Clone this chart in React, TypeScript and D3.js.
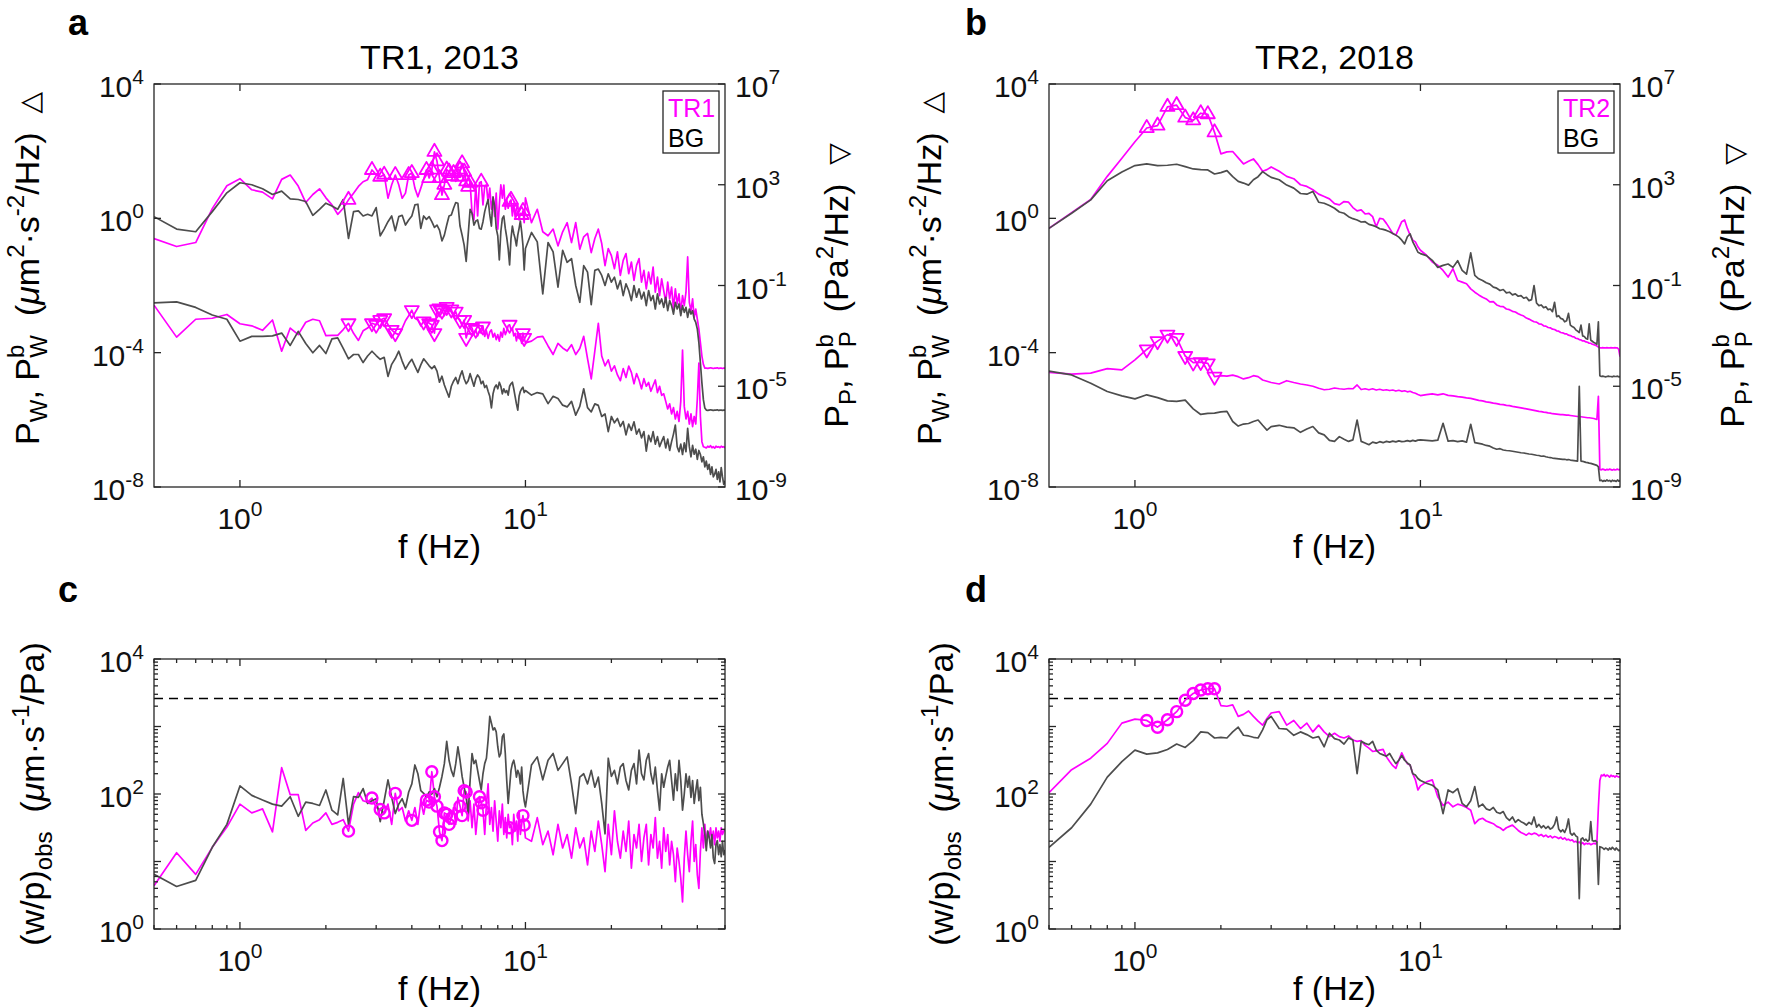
import React from 'react';
import * as d3 from 'd3';

const FONT = '"Liberation Sans", Arial, Helvetica, sans-serif';
const MAGENTA = '#ff00ff';
const GREY = '#4d4d4d';
const INK = '#262626';

// frequency grids (Hz)
const FREQ_FINE = [
  0.5, 0.6, 0.7, 0.8, 0.9, 1.0, 1.1, 1.2, 1.3, 1.4,
  1.5, 1.6, 1.7, 1.8, 1.9, 2.0, 2.1, 2.2, 2.3, 2.4,
  2.5, 2.6, 2.7, 2.8, 2.9, 3.0, 3.1, 3.2, 3.3, 3.4,
  3.5, 3.6, 3.7, 3.8, 3.9, 4.0, 4.1, 4.2, 4.3, 4.4,
  4.5, 4.6, 4.7, 4.8, 4.9, 5.0, 5.1, 5.2, 5.3, 5.4,
  5.5, 5.6, 5.7, 5.8, 5.9, 6.0, 6.1, 6.2, 6.3, 6.4,
  6.5, 6.6, 6.7, 6.8, 6.9, 7.0, 7.1, 7.2, 7.3, 7.4,
  7.5, 7.6, 7.7, 7.8, 7.9, 8.0, 8.1, 8.2, 8.3, 8.4,
  8.5, 8.6, 8.7, 8.8, 8.9, 9.0, 9.1, 9.2, 9.3, 9.4,
  9.5, 9.6, 9.7, 9.8, 9.9, 10.0,
];
const FREQ_COARSE = [
  0.5, 0.6, 0.7, 0.8, 0.9, 1.0, 1.1, 1.2, 1.3, 1.4,
  1.5, 1.6, 1.7, 1.8, 1.9, 2.0, 2.1, 2.2, 2.3, 2.4,
  2.5, 2.6, 2.7, 2.8, 2.9, 3.0,
  3.2, 3.4, 3.6, 3.8, 4.0, 4.2, 4.4, 4.6, 4.8, 5.0,
  5.2, 5.4, 5.6, 5.8, 6.0, 6.2, 6.4, 6.6, 6.8, 7.0,
  7.2, 7.4, 7.6, 7.8, 8.0, 8.2, 8.4, 8.6, 8.8, 9.0,
  9.2, 9.4, 9.6, 9.8, 10.0,
];
const FREQ_HIGH = [
  10.5, 11, 11.5, 12, 12.5, 13, 13.5, 14, 14.5, 15,
  15.5, 16, 16.5, 17, 17.5, 18, 18.5, 19, 19.5, 20,
  20.5, 21, 21.5, 22, 22.5, 23, 23.5, 24, 24.5, 25,
  25.5, 26, 26.5, 27, 27.5, 28, 28.5, 29, 29.5, 30,
  30.5, 31, 31.5, 32, 32.5, 33, 33.5, 34, 34.5, 35,
  35.5, 36, 36.5, 37, 37.5, 38, 38.5, 39, 39.5, 40,
  40.5, 41, 41.5, 42, 42.5, 43, 43.5, 44, 44.5, 45,
  45.5, 46, 46.5, 47, 47.5, 48, 48.5, 49, 49.5, 50,
];

// tick labels (powers of ten)
const W_TICK_EXP = [4, 0, -4, -8];
const P_TICK_EXP = [7, 3, -1, -5, -9];
const F_TICK_EXP = [0, 1];
const RATIO_TICK_EXP = [0, 2, 4];

// ---- a: TR1, 2013 (log10 values) ----
const tr1PwLog = [
  -0.60, -0.84, -0.72, 0.29, 0.97, 1.18, 0.85, 0.78, 0.58, 1.16,
  1.29, 0.96, 0.47, 0.71, 0.88, 0.61, 0.40, 0.12, 0.30, 0.55,
  0.75, 0.95, 1.09, 1.15, 1.44, 1.30, 1.24, 1.30, 0.60, 1.00,
  1.29, 1.00, 0.60, 0.75, 1.29, 1.35, 0.90, 0.64, 0.90, 1.16,
  1.44, 1.20, 1.45, 1.98, 1.70, 1.20, 0.69, 1.00, 1.45, 1.39,
  1.26, 1.35, 1.10, 1.24, 1.45, 1.64, 1.39, 1.10, 0.94, 1.06,
  0.17, -0.05, 1.00, 0.07, 1.06, 1.09, 0.40, 0.96, 0.99, 0.47,
  0.90, 0.27, 0.60, 0.06, 0.75, -0.32, 0.40, 1.00, 0.60, 0.99,
  0.27, 0.55, 0.30, 0.49, 0.55, 0.07, 0.45, 0.05, 0.30, 0.40,
  -0.05, 0.15, 0.10, 0.22, -0.13, 0.61,
  -0.13, 0.27, -0.40, -0.52, -0.32, -0.82, -0.40, -0.13, -0.72, -0.13,
  -0.92, -0.55, -0.45, -1.02, -0.60, -0.32, -0.75, -1.41, -0.90, -1.11,
  -1.50, -1.00, -1.70, -1.25, -1.05, -1.65, -1.30, -1.85, -1.40, -1.20,
  -1.90, -1.55, -2.10, -1.60, -1.95, -1.45, -2.20, -1.75, -2.30, -1.80,
  -2.15, -2.50, -1.90, -2.40, -2.05, -2.70, -2.10, -2.55, -2.25, -2.80,
  -2.30, -2.60, -2.20, -1.15, -2.50, -2.75, -2.40, -2.95, -2.70, -3.00,
  -3.30, -3.70, -4.10, -4.35, -4.46, -4.46, -4.47, -4.46, -4.45, -4.46,
  -4.47, -4.46, -4.46, -4.45, -4.47, -4.46, -4.46, -4.47, -4.46, -4.46,
];
const bg1PwLog = [
  0.05, -0.32, -0.40, 0.20, 0.76, 1.06, 1.00, 0.88, 0.71, 0.81,
  0.58, 0.56, 0.50, 0.09, 0.27, 0.45, 0.37, 0.27, 0.56, -0.60,
  0.20, 0.22, 0.07, 0.12, 0.07, 0.32, -0.52, -0.32, -0.10, 0.07,
  -0.37, 0.05, 0.09, -0.20, -0.05, 0.07, 0.40, 0.42, -0.30, 0.07,
  -0.03, 0.05, -0.10, -0.27, -0.20, -0.35, -0.67, -0.50, -0.20, 0.07,
  0.10, 0.30, 0.47, 0.45, -0.23, -0.50, -0.80, -1.28, -0.50, 0.27,
  0.15, -0.20, -0.08, -0.05, -0.30, -0.32, -0.10, 0.20, 0.40, 0.56,
  0.10, -0.23, 0.64, 0.37, -0.30, -0.52, -1.24, -0.40, 0.00, 0.07,
  -0.30, -0.57, -0.90, -1.39, -0.60, -0.23, -0.45, -0.60, -0.82, -0.50,
  -0.30, -0.08, -0.40, -0.80, -1.54, -0.90,
  -0.42, -0.70, -2.25, -0.72, -1.00, -2.05, -0.95, -1.31, -1.20, -2.00,
  -2.50, -1.41, -1.60, -2.57, -1.55, -1.51, -1.70, -2.00, -1.65, -1.90,
  -1.75, -2.10, -1.85, -2.30, -1.95, -2.15, -2.45, -2.00, -2.35, -2.10,
  -2.40, -2.20, -2.60, -2.15, -2.45, -2.30, -2.70, -2.25, -2.55, -2.40,
  -2.65, -2.35, -2.75, -2.45, -2.60, -2.85, -2.50, -2.70, -2.55, -2.90,
  -2.60, -2.80, -2.65, -2.95, -2.70, -2.85, -2.75, -3.00, -3.10, -3.30,
  -3.70, -4.30, -4.90, -5.40, -5.65, -5.71, -5.72, -5.71, -5.70, -5.71,
  -5.72, -5.71, -5.71, -5.70, -5.72, -5.71, -5.71, -5.72, -5.71, -5.71,
];
const tr1PpLog = [
  -1.78, -3.05, -2.34, -2.30, -2.15, -2.52, -2.60, -2.78, -2.37, -3.61,
  -2.69, -2.95, -2.46, -2.34, -2.40, -2.99, -2.98, -2.98, -2.75, -2.50,
  -2.90, -3.18, -2.80, -2.69, -2.50, -2.56, -2.37, -2.30, -2.55, -2.76,
  -2.89, -2.95, -2.70, -2.40, -2.20, -1.98, -2.30, -2.37, -2.60, -2.43,
  -2.30, -2.50, -2.56, -2.89, -1.95, -1.91, -2.00, -2.20, -1.85, -2.00,
  -1.95, -2.20, -2.04, -2.30, -2.37, -2.60, -2.37, -3.08, -2.80, -2.60,
  -2.69, -2.95, -2.76, -3.00, -2.80, -2.90, -2.63, -3.02, -2.80, -3.10,
  -2.85, -2.76, -3.05, -2.90, -3.15, -2.95, -3.21, -2.85, -3.05, -2.70,
  -2.95, -2.80, -2.60, -2.56, -2.75, -2.69, -3.00, -2.90, -3.20, -2.95,
  -3.10, -2.95, -3.30, -2.89, -3.08, -3.28,
  -3.21, -3.05, -3.02, -3.40, -3.74, -3.30, -3.48, -3.60, -3.35, -3.74,
  -3.50, -3.02, -3.90, -4.71, -3.60, -2.50, -3.80, -4.19, -3.95, -4.40,
  -4.19, -4.55, -4.78, -4.30, -4.65, -4.20, -4.45, -4.90, -4.50, -4.75,
  -5.10, -4.70, -5.00, -4.85, -5.20, -4.97, -4.75, -5.25, -5.00, -5.36,
  -5.30, -5.60, -5.90, -5.70, -6.10, -5.85, -6.30, -6.00, -6.40, -5.60,
  -3.56, -5.80, -6.30, -6.00, -6.50, -6.10, -6.60, -6.20, -6.50, -5.50,
  -4.08, -6.20, -7.20, -7.40, -7.42, -7.45, -7.38, -7.42, -7.36, -7.44,
  -7.40, -7.46, -7.38, -7.42, -7.40, -7.44, -7.38, -7.42, -7.40, -7.45,
];
const bg1PpLog = [
  -1.69, -1.65, -1.87, -2.17, -2.34, -3.21, -3.02, -3.02, -3.00, -2.89,
  -3.38, -2.82, -3.30, -3.67, -3.38, -3.70, -3.12, -3.08, -3.50, -3.91,
  -3.74, -3.74, -4.06, -3.80, -3.61, -3.78, -3.93, -3.85, -4.61, -4.13,
  -3.90, -3.61, -4.00, -4.32, -4.10, -3.93, -4.20, -4.45, -4.15, -3.91,
  -4.05, -4.19, -4.30, -4.19, -4.40, -4.84, -4.60, -4.95, -5.20, -5.43,
  -5.00, -4.80, -4.65, -4.90, -4.60, -4.39, -4.70, -4.90, -4.78, -4.50,
  -4.75, -5.00, -4.70, -4.55, -4.65, -4.90, -4.80, -5.05, -4.97, -5.20,
  -5.40, -5.86, -5.30, -5.05, -4.95, -5.10, -4.84, -5.00, -5.30, -5.10,
  -5.25, -5.17, -5.35, -5.00, -4.90, -4.84, -5.10, -5.40, -5.70, -5.95,
  -5.40, -5.20, -5.10, -5.04, -5.25, -5.17,
  -5.35, -5.25, -5.30, -5.69, -5.40, -5.49, -5.75, -5.82, -5.60, -6.15,
  -5.80, -5.10, -5.85, -6.02, -5.70, -5.76, -6.20, -6.10, -6.80, -6.20,
  -6.45, -6.28, -6.60, -6.40, -6.93, -6.50, -6.75, -6.41, -6.90, -6.70,
  -7.05, -6.80, -7.58, -6.95, -7.20, -6.80, -7.30, -7.00, -7.40, -7.19,
  -7.00, -7.45, -7.10, -7.55, -7.20, -6.90, -6.54, -7.40, -7.60, -7.30,
  -7.71, -7.25, -7.60, -6.67, -7.40, -7.80, -7.35, -7.70, -7.50, -7.90,
  -7.55, -7.71, -8.00, -7.80, -8.20, -7.97, -8.30, -8.10, -8.50, -8.20,
  -8.60, -8.49, -8.30, -8.70, -8.40, -8.80, -8.23, -8.60, -8.90, -8.75,
];
const tr1PwMarkF = [2.4, 2.9, 3.1, 3.2, 3.5, 3.9, 4.0, 4.5, 4.6, 4.7, 4.8, 4.9, 5.0, 5.1, 5.2, 5.3, 5.4, 5.5, 5.6, 5.8, 5.9, 6.0, 6.1, 6.2, 6.3, 6.4, 7.0, 8.8, 8.9, 9.7, 9.8];
const tr1PpMarkF = [2.4, 2.9, 3.0, 3.1, 3.2, 3.4, 3.5, 4.0, 4.4, 4.6, 4.7, 4.8, 4.9, 5.0, 5.1, 5.3, 5.5, 5.7, 5.9, 6.1, 6.2, 6.5, 6.7, 7.1, 8.8, 9.8, 9.9];

// ---- b: TR2, 2018 (log10 values) ----
const tr2PwLog = [
  -0.30, 0.17, 0.56, 1.25, 1.79, 2.28, 2.69, 2.76, 3.32, 3.37,
  3.00, 2.92, 3.13, 3.10, 2.56, 1.92, 1.98, 1.99, 1.80, 1.62,
  1.70, 1.77, 1.60, 1.40, 1.45, 1.53,
  1.40, 1.25, 1.18, 1.00, 0.95, 0.85, 0.72, 0.65, 0.58, 0.44,
  0.40, 0.50, 0.48, 0.32, 0.22, 0.25, 0.13, 0.15, 0.05, -0.25,
  0.00, -0.02, -0.15, -0.30, -0.45, -0.50, -0.30, -0.10, -0.05, -0.30,
  -0.50, -0.65, -0.70, -0.85, -0.95,
  -1.10, -1.30, -1.40, -1.55, -1.75, -1.50, -1.85, -1.90, -1.95, -2.10,
  -2.20, -2.28, -2.35, -2.40, -2.49, -2.48, -2.58, -2.62, -2.63, -2.70,
  -2.72, -2.77, -2.79, -2.84, -2.88, -2.91, -2.97, -3.00, -3.04, -3.08,
  -3.09, -3.14, -3.15, -3.20, -3.21, -3.25, -3.26, -3.30, -3.31, -3.35,
  -3.36, -3.40, -3.41, -3.44, -3.44, -3.48, -3.49, -3.52, -3.53, -3.57,
  -3.58, -3.61, -3.62, -3.65, -3.65, -3.68, -3.69, -3.72, -3.72, -3.75,
  -3.76, -3.78, -3.80, -3.83, -3.86, -3.86, -3.85, -3.86, -3.86, -3.85,
  -3.86, -3.86, -3.85, -3.86, -3.86, -3.85, -3.86, -3.86, -3.90, -4.12,
];
const bg2PwLog = [
  -0.30, 0.15, 0.55, 1.12, 1.38, 1.57, 1.62, 1.57, 1.58, 1.61,
  1.54, 1.47, 1.45, 1.44, 1.32, 1.36, 1.42, 1.24, 1.10, 1.05,
  0.99, 1.15, 1.24, 1.39, 1.30, 1.22,
  1.15, 0.99, 0.90, 0.74, 0.72, 0.80, 0.48, 0.45, 0.38, 0.30,
  0.19, 0.15, 0.05, -0.01, -0.05, -0.11, -0.10, -0.18, -0.21, -0.25,
  -0.31, -0.33, -0.36, -0.40, -0.45, -0.50, -0.56, -0.65, -0.76, -0.55,
  -0.46, -0.70, -0.85, -1.01, -1.05,
  -1.11, -1.25, -1.46, -1.40, -1.36, -1.46, -1.26, -1.55, -1.66, -1.03,
  -1.70, -1.80, -1.85, -1.92, -1.96, -2.05, -2.08, -2.15, -2.12, -2.22,
  -2.20, -2.28, -2.25, -2.32, -2.30, -2.38, -2.35, -2.45, -2.42, -2.00,
  -2.52, -2.60, -2.58, -2.66, -2.63, -2.72, -2.70, -2.78, -2.50, -2.93,
  -2.90, -2.98, -3.00, -3.08, -3.05, -2.83, -3.18, -3.22, -3.25, -3.32,
  -3.36, -3.40, -3.18, -3.50, -3.52, -3.58, -3.60, -3.14, -3.63, -3.66,
  -3.70, -3.72, -3.75, -3.08, -4.69, -4.71, -4.70, -4.71, -4.72, -4.71,
  -4.70, -4.71, -4.71, -4.72, -4.70, -4.71, -4.71, -4.70, -4.72, -4.71,
];
const tr2PpLog = [
  -4.45, -4.52, -4.48, -4.30, -4.35, -3.95, -3.54, -3.21, -2.95, -3.08,
  -3.80, -4.06, -4.04, -4.09, -4.62, -4.58, -4.60, -4.56, -4.62, -4.71,
  -4.66, -4.58, -4.62, -4.75, -4.80, -4.85,
  -4.91, -4.78, -4.85, -4.91, -4.95, -5.00, -5.08, -5.14, -5.12, -5.07,
  -5.10, -5.12, -5.09, -5.10, -4.95, -5.13, -5.10, -5.14, -5.10, -5.15,
  -5.12, -5.16, -5.14, -5.17, -5.15, -5.19, -5.16, -5.20, -5.18, -5.22,
  -5.20, -5.25, -5.28, -5.33, -5.37,
  -5.33, -5.30, -5.34, -5.30, -5.36, -5.38, -5.41, -5.43, -5.46, -5.48,
  -5.52, -5.56, -5.58, -5.62, -5.64, -5.67, -5.69, -5.72, -5.73, -5.76,
  -5.77, -5.80, -5.82, -5.84, -5.86, -5.88, -5.90, -5.92, -5.94, -5.96,
  -5.98, -6.00, -6.01, -6.03, -6.04, -6.06, -6.07, -6.09, -6.10, -6.11,
  -6.12, -6.13, -6.13, -6.14, -6.15, -6.15, -6.16, -6.17, -6.18, -6.19,
  -6.20, -6.21, -6.21, -6.22, -6.23, -6.24, -6.25, -6.25, -6.26, -6.27,
  -6.28, -6.30, -6.32, -5.40, -8.30, -8.32, -8.29, -8.31, -8.33, -8.30,
  -8.32, -8.29, -8.31, -8.33, -8.30, -8.32, -8.31, -8.29, -8.32, -8.30,
];
const bg2PpLog = [
  -4.40, -4.55, -4.88, -5.21, -5.38, -5.50, -5.34, -5.45, -5.58, -5.60,
  -5.55, -5.90, -6.12, -6.08, -6.07, -6.02, -6.00, -6.40, -6.58, -6.50,
  -6.48, -6.40, -6.34, -6.55, -6.74, -6.60,
  -6.55, -6.62, -6.65, -6.83, -6.70, -6.60, -6.85, -6.93, -7.15, -7.19,
  -7.00, -7.10, -7.19, -7.13, -6.34, -7.19, -7.25, -7.32, -7.22, -7.26,
  -7.20, -7.24, -7.19, -7.22, -7.18, -7.21, -7.17, -7.20, -7.19, -7.16,
  -7.19, -7.15, -7.18, -7.14, -7.13,
  -7.15, -7.17, -7.14, -6.47, -7.18, -7.16, -7.20, -7.17, -7.22, -6.51,
  -7.24, -7.27, -7.30, -7.35, -7.38, -7.45, -7.50, -7.48, -7.53, -7.55,
  -7.56, -7.58, -7.60, -7.62, -7.64, -7.65, -7.67, -7.69, -7.70, -7.72,
  -7.74, -7.75, -7.78, -7.77, -7.80, -7.82, -7.83, -7.85, -7.86, -7.87,
  -7.88, -7.89, -7.90, -7.90, -7.92, -7.91, -7.93, -7.94, -7.95, -7.96,
  -7.97, -5.00, -7.97, -7.98, -8.00, -8.02, -8.03, -8.05, -8.06, -8.08,
  -8.10, -8.12, -8.14, -8.20, -8.75, -8.73, -8.78, -8.74, -8.77, -8.72,
  -8.76, -8.74, -8.79, -8.73, -8.76, -8.75, -8.78, -8.72, -8.77, -8.74,
];
const tr2MarkF = [1.1, 1.2, 1.3, 1.4, 1.5, 1.6, 1.7, 1.8, 1.9];

// ---- c: (w/p)obs for TR1 (log10 values) ----
const tr1RatioLog = [
  0.64, 1.13, 0.81, 1.21, 1.51, 1.85, 1.72, 1.78, 1.44, 2.39,
  1.99, 1.99, 1.46, 1.57, 1.62, 1.72, 1.55, 1.58, 1.62, 1.45,
  1.85, 2.02, 1.90, 1.88, 1.94, 1.80, 1.77, 1.72, 1.85, 1.55,
  2.01, 1.75, 1.80, 1.60, 1.75, 1.61, 1.80, 1.55, 1.90, 1.70,
  1.91, 1.88, 2.33, 1.96, 1.82, 1.44, 1.31, 1.72, 1.70, 1.55,
  1.64, 1.80, 1.55, 1.95, 1.82, 1.68, 2.05, 2.03, 1.60, 1.90,
  1.50, 1.85, 1.40, 1.70, 1.96, 1.87, 1.76, 1.40, 1.85, 2.15,
  1.55, 1.80, 1.45, 1.90, 1.60, 1.30, 1.75, 1.50, 1.85, 1.40,
  1.65, 1.35, 1.70, 1.50, 1.55, 1.25, 1.70, 1.45, 1.60, 1.30,
  1.75, 1.40, 1.55, 1.68, 1.54, 1.35,
  1.30, 1.65, 1.25, 1.45, 1.10, 1.55, 1.20, 1.40, 1.05, 1.50,
  1.20, 1.35, 0.95, 1.45, 1.15, 1.60, 1.25, 0.85, 1.55, 1.10,
  1.75, 1.30, 1.05, 1.45, 1.15, 1.60, 0.90, 1.40, 1.20, 1.55,
  1.00, 1.35, 1.55, 0.95, 1.40, 1.20, 1.65, 1.05, 1.30, 0.90,
  1.50, 1.15, 1.40, 0.95, 1.30, 1.10, 0.70, 1.20, 1.00, 0.75,
  0.40, 1.05, 1.45, 1.10, 0.85, 1.30, 1.60, 1.00, 1.25, 0.80,
  0.60, 1.15, 1.50, 1.20, 1.55, 1.25, 1.45, 1.35, 1.50, 1.30,
  1.45, 1.25, 1.50, 1.35, 1.45, 1.30, 1.50, 1.40, 1.45, 1.48,
];
const bg1RatioLog = [
  0.81, 0.63, 0.72, 1.21, 1.55, 2.12, 1.98, 1.91, 1.85, 1.82,
  1.96, 1.67, 1.88, 1.86, 1.83, 2.06, 1.76, 1.69, 2.23, 1.55,
  1.96, 1.95, 2.08, 1.86, 1.90, 1.93, 1.59, 1.90, 2.21, 1.95,
  1.71, 1.85, 1.93, 1.80, 2.03, 2.15, 2.43, 2.30, 2.05, 2.01,
  1.95, 2.03, 2.00, 2.08, 1.96, 2.10, 2.26, 2.45, 2.78, 2.50,
  2.35, 2.26, 2.45, 2.70, 2.50, 2.26, 2.10, 1.95, 1.71, 2.20,
  2.60, 2.45, 2.50, 2.35, 2.20, 2.06, 2.30, 2.45, 2.53, 2.80,
  3.15, 3.05, 2.95, 2.98, 2.92, 2.70, 2.55, 2.60, 2.85, 2.89,
  2.60, 2.20, 1.86, 2.10, 2.35, 2.45, 2.50, 2.40, 2.25, 2.35,
  2.30, 2.15, 2.40, 2.05, 1.90, 1.81,
  2.43, 2.55, 2.21, 2.50, 2.60, 2.35, 2.45, 2.55, 2.15, 1.71,
  2.25, 2.30, 2.15, 2.35, 2.10, 2.25, 1.86, 1.41, 2.53, 2.26,
  2.35, 2.15, 2.40, 2.45, 2.20, 2.06, 2.35, 2.45, 2.15, 2.65,
  2.30, 2.21, 2.50, 2.60, 2.30, 2.15, 2.40, 2.05, 1.76, 2.30,
  2.10, 2.26, 2.40, 2.50, 2.20, 1.91, 2.30, 2.05, 2.50, 2.20,
  1.76, 2.00, 2.30, 2.10, 2.26, 1.95, 2.20, 1.86, 2.05, 2.21,
  1.90, 2.10, 1.70, 1.56, 1.40, 1.16, 1.45, 1.36, 1.20, 1.40,
  1.05, 0.97, 1.25, 1.31, 1.10, 1.25, 1.07, 1.30, 1.10, 1.17,
];
const tr1RatioMarkF = [2.4, 2.9, 3.1, 3.2, 3.5, 4.0, 4.5, 4.6, 4.7, 4.8, 4.9, 5.0, 5.1, 5.2, 5.3, 5.4, 5.5, 5.9, 6.0, 6.1, 6.2, 6.9, 7.0, 7.1, 8.8, 9.8, 9.9];

// ---- d: (w/p)obs for TR2 (log10 values) ----
const tr2RatioLog = [
  2.02, 2.36, 2.53, 2.75, 3.05, 3.11, 3.09, 2.99, 3.10, 3.22,
  3.39, 3.49, 3.54, 3.56, 3.56, 3.31, 3.30, 3.32, 3.15, 3.18,
  3.23, 3.15, 3.08, 3.02, 3.12, 3.20,
  3.22, 3.02, 3.09, 2.97, 3.05, 2.92, 3.02, 2.92, 2.85, 2.90,
  2.85, 2.83, 2.86, 2.80, 2.78, 2.79, 2.72, 2.68, 2.63, 2.64,
  2.65, 2.66, 2.55, 2.48, 2.42, 2.38, 2.50, 2.61, 2.52, 2.45,
  2.43, 2.30, 2.21, 2.06, 2.12,
  2.18, 2.21, 1.96, 1.83, 1.88, 1.81, 1.85, 1.83, 1.80, 1.76,
  1.56, 1.62, 1.64, 1.60, 1.58, 1.56, 1.52, 1.50, 1.46, 1.50,
  1.52, 1.54, 1.50, 1.46, 1.43, 1.41, 1.39, 1.42, 1.40, 1.42,
  1.41, 1.38, 1.40, 1.37, 1.39, 1.36, 1.38, 1.35, 1.37, 1.36,
  1.34, 1.36, 1.33, 1.35, 1.32, 1.33, 1.31, 1.32, 1.29, 1.30,
  1.28, 1.29, 1.26, 1.28, 1.25, 1.27, 1.26, 1.27, 1.25, 1.26,
  1.27, 1.26, 1.29, 1.80, 2.20, 2.28, 2.27, 2.29, 2.26, 2.28,
  2.27, 2.25, 2.28, 2.26, 2.27, 2.25, 2.27, 2.26, 2.25, 2.26,
];
const bg2RatioLog = [
  1.21, 1.50, 1.85, 2.25, 2.48, 2.65, 2.59, 2.61, 2.66, 2.74,
  2.69, 2.79, 2.92, 2.91, 2.83, 2.84, 2.83, 2.92, 2.99, 2.87,
  2.86, 2.84, 2.83, 2.95, 3.10, 3.15,
  2.97, 2.96, 2.87, 2.92, 2.88, 2.83, 2.85, 2.70, 2.90, 2.82,
  2.80, 2.74, 2.83, 2.80, 2.30, 2.78, 2.75, 2.73, 2.78, 2.65,
  2.60, 2.58, 2.56, 2.60, 2.52, 2.45, 2.50, 2.57, 2.50, 2.46,
  2.43, 2.30, 2.28, 2.23, 2.20,
  2.16, 2.13, 2.06, 1.71, 2.06, 2.02, 2.08, 1.86, 1.81, 1.90,
  2.11, 1.81, 1.85, 1.78, 1.76, 1.80, 1.73, 1.71, 1.74, 1.65,
  1.61, 1.66, 1.58, 1.62, 1.59, 1.57, 1.54, 1.58, 1.55, 1.66,
  1.51, 1.55, 1.50, 1.53, 1.49, 1.52, 1.48, 1.50, 1.55, 1.66,
  1.48, 1.44, 1.47, 1.43, 1.50, 1.63, 1.42, 1.39, 1.42, 1.38,
  1.36, 0.45, 1.33, 1.35, 1.31, 1.33, 1.30, 1.32, 1.59, 1.31,
  1.30, 1.31, 1.29, 0.66, 1.22, 1.21, 1.20, 1.18, 1.20, 1.19,
  1.17, 1.20, 1.18, 1.21, 1.19, 1.17, 1.20, 1.18, 1.16, 1.17,
];
const tr2RatioMarkF = [1.1, 1.2, 1.3, 1.4, 1.5, 1.6, 1.7, 1.8, 1.9];
const RATIO_LIMIT = 2600;

const BOX_A = { left: 154, right: 725, top: 84, bottom: 487 };
const BOX_B = { left: 1049, right: 1620, top: 84, bottom: 487 };
const BOX_C = { left: 154, right: 725, top: 659, bottom: 929 };
const BOX_D = { left: 1049, right: 1620, top: 659, bottom: 929 };

type Box = { left: number; right: number; top: number; bottom: number };

function toPoints(freqs: number[], logs: number[]): [number, number][] {
  const n = Math.min(freqs.length, logs.length);
  const out: [number, number][] = [];
  for (let i = 0; i < n; i++) out.push([freqs[i], Math.pow(10, logs[i])]);
  return out;
}

function markPoints(pts: [number, number][], freqs: number[]) {
  return freqs
    .map((f) => pts.find((p) => Math.abs(p[0] - f) < 1e-6))
    .filter(Boolean) as [number, number][];
}

function Pow({ x, y, exp, anchor }: { x: number; y: number; exp: number; anchor: string }) {
  return (
    <text x={x} y={y} textAnchor={anchor} fontSize={30} fontFamily={FONT} fill="#111">
      <tspan>10</tspan>
      <tspan dy={-13} fontSize={21}>{String(exp)}</tspan>
    </text>
  );
}

const triUp = d3.symbol().type(d3.symbolTriangle).size(85)() as string;
const TXT: React.CSSProperties = { whiteSpace: 'pre' };

function SpectrumPanel(props: {
  box: Box; letter: string; title: string; legend: string; clip: string;
  freqs: number[]; wTR: number[]; wBG: number[]; pTR: number[]; pBG: number[];
  wMarks: number[]; pMarks: number[]; leftLabelX: number; rightLabelX: number;
}) {
  const { box } = props;
  const x = d3.scaleLog().domain([0.5, 50]).range([box.left, box.right]);
  const yW = d3.scaleLog().domain([1e-8, 1e4]).range([box.bottom, box.top]);
  const yP = d3.scaleLog().domain([1e-9, 1e7]).range([box.bottom, box.top]);
  const lineW = d3.line<[number, number]>().x((d) => x(d[0])).y((d) => yW(d[1]));
  const lineP = d3.line<[number, number]>().x((d) => x(d[0])).y((d) => yP(d[1]));
  const wTR = toPoints(props.freqs, props.wTR);
  const wBG = toPoints(props.freqs, props.wBG);
  const pTR = toPoints(props.freqs, props.pTR);
  const pBG = toPoints(props.freqs, props.pBG);
  const cx = (box.left + box.right) / 2;
  const cy = (box.top + box.bottom) / 2;
  const T = 7;
  const lgX = box.right - 6 - 56;
  const lgY = box.top + 7;
  return (
    <g>
      <defs>
        <clipPath id={props.clip}>
          <rect x={box.left} y={box.top} width={box.right - box.left} height={box.bottom - box.top} />
        </clipPath>
      </defs>
      <text x={props.letter === 'a' ? 68 : 965} y={35} fontSize={36} fontWeight="bold" fontFamily={FONT}>{props.letter}</text>
      <text x={cx} y={69} textAnchor="middle" fontSize={34} fontFamily={FONT}>{props.title}</text>
      <g clipPath={`url(#${props.clip})`} fill="none" strokeWidth={1.7} strokeLinejoin="round">
        <path d={lineW(wTR) as string} stroke={MAGENTA} />
        <path d={lineP(pTR) as string} stroke={MAGENTA} />
        <path d={lineW(wBG) as string} stroke={GREY} />
        <path d={lineP(pBG) as string} stroke={GREY} />
        {markPoints(wTR, props.wMarks).map((p, i) => (
          <path key={'w' + i} d={triUp} transform={`translate(${x(p[0])},${yW(p[1])})`} stroke={MAGENTA} strokeWidth={1.8} />
        ))}
        {markPoints(pTR, props.pMarks).map((p, i) => (
          <path key={'p' + i} d={triUp} transform={`translate(${x(p[0])},${yP(p[1])}) rotate(180)`} stroke={MAGENTA} strokeWidth={1.8} />
        ))}
      </g>
      <rect x={box.left} y={box.top} width={box.right - box.left} height={box.bottom - box.top} fill="none" stroke={INK} strokeWidth={1.3} />
      {F_TICK_EXP.map((e) => {
        const px = x(Math.pow(10, e));
        return (
          <g key={'fx' + e}>
            <line x1={px} x2={px} y1={box.bottom} y2={box.bottom - T} stroke={INK} strokeWidth={1.3} />
            <line x1={px} x2={px} y1={box.top} y2={box.top + T} stroke={INK} strokeWidth={1.3} />
            <Pow x={px} y={box.bottom + 42} exp={e} anchor="middle" />
          </g>
        );
      })}
      {W_TICK_EXP.map((e) => {
        const py = yW(Math.pow(10, e));
        return (
          <g key={'w' + e}>
            <line x1={box.left} x2={box.left + T} y1={py} y2={py} stroke={INK} strokeWidth={1.3} />
            <Pow x={box.left - 10} y={py + 13} exp={e} anchor="end" />
          </g>
        );
      })}
      {P_TICK_EXP.map((e) => {
        const py = yP(Math.pow(10, e));
        return (
          <g key={'p' + e}>
            <line x1={box.right} x2={box.right - T} y1={py} y2={py} stroke={INK} strokeWidth={1.3} />
            <Pow x={box.right + 10} y={py + 13} exp={e} anchor="start" />
          </g>
        );
      })}
      <rect x={lgX} y={lgY} width={56} height={62} fill="#fff" stroke={INK} strokeWidth={1.3} />
      <text x={lgX + 5} y={lgY + 26} fontSize={25} fontFamily={FONT} fill={MAGENTA}>{props.legend}</text>
      <text x={lgX + 5} y={lgY + 56} fontSize={25} fontFamily={FONT} fill="#000">BG</text>
      <text x={cx} y={box.bottom + 71} textAnchor="middle" fontSize={34} fontFamily={FONT}>f (Hz)</text>
      <text transform={`translate(${props.leftLabelX},${cy - 17}) rotate(-90)`} textAnchor="middle" fontSize={34} fontFamily={FONT} style={TXT}>
        <tspan>P</tspan>
        <tspan dy={8} fontSize={24}>W</tspan>
        <tspan dy={-8}>, P</tspan>
        <tspan dy={-15} fontSize={24}>b</tspan>
        <tspan dx={-13} dy={23} fontSize={24}>W</tspan>
        <tspan dy={-8}>  (</tspan>
        <tspan fontStyle="italic">μ</tspan>
        <tspan>m</tspan>
        <tspan dy={-15} fontSize={24}>2</tspan>
        <tspan dy={15}>·s</tspan>
        <tspan dy={-15} fontSize={24}>-2</tspan>
        <tspan dy={15}>/Hz)  </tspan>
        <tspan fontFamily='"DejaVu Sans", sans-serif' fontSize={28}>△</tspan>
      </text>
      <text transform={`translate(${props.rightLabelX},${cy}) rotate(-90)`} textAnchor="middle" fontSize={34} fontFamily={FONT} style={TXT}>
        <tspan>P</tspan>
        <tspan dy={8} fontSize={24}>P</tspan>
        <tspan dy={-8}>, P</tspan>
        <tspan dy={-15} fontSize={24}>b</tspan>
        <tspan dx={-13} dy={23} fontSize={24}>P</tspan>
        <tspan dy={-8}>  (Pa</tspan>
        <tspan dy={-15} fontSize={24}>2</tspan>
        <tspan dy={15}>/Hz)  </tspan>
        <tspan fontFamily='"DejaVu Sans", sans-serif' fontSize={28}>▽</tspan>
      </text>
    </g>
  );
}

function RatioPanel(props: {
  box: Box; letter: string; clip: string; freqs: number[];
  tr: number[]; bg: number[]; marks: number[]; labelX: number;
}) {
  const { box } = props;
  const x = d3.scaleLog().domain([0.5, 50]).range([box.left, box.right]);
  const y = d3.scaleLog().domain([1, 1e4]).range([box.bottom, box.top]);
  const line = d3.line<[number, number]>().x((d) => x(d[0])).y((d) => y(d[1]));
  const tr = toPoints(props.freqs, props.tr);
  const bg = toPoints(props.freqs, props.bg);
  const cx = (box.left + box.right) / 2;
  const cy = (box.top + box.bottom) / 2;
  const xMajor = [1, 10];
  const xMinor: number[] = [];
  [0.1, 1, 10].forEach((dec) => [2, 3, 4, 5, 6, 7, 8, 9].forEach((k) => {
    const v = k * dec;
    if (v >= 0.5 && v <= 50 && v !== 1 && v !== 10) xMinor.push(v);
  }));
  const yMajor = [1, 10, 100, 1000, 10000];
  const yMinor: number[] = [];
  [1, 10, 100, 1000].forEach((dec) => [2, 3, 4, 5, 6, 7, 8, 9].forEach((k) => yMinor.push(k * dec)));
  const tk = (v: number, major: boolean, axis: 'x' | 'y', key: string) => {
    const L = major ? 7 : 4;
    if (axis === 'x') {
      const px = x(v);
      return (
        <g key={key}>
          <line x1={px} x2={px} y1={box.bottom} y2={box.bottom - L} stroke={INK} strokeWidth={1.3} />
          <line x1={px} x2={px} y1={box.top} y2={box.top + L} stroke={INK} strokeWidth={1.3} />
        </g>
      );
    }
    const py = y(v);
    return (
      <g key={key}>
        <line x1={box.left} x2={box.left + L} y1={py} y2={py} stroke={INK} strokeWidth={1.3} />
        <line x1={box.right} x2={box.right - L} y1={py} y2={py} stroke={INK} strokeWidth={1.3} />
      </g>
    );
  };
  return (
    <g>
      <defs>
        <clipPath id={props.clip}>
          <rect x={box.left} y={box.top} width={box.right - box.left} height={box.bottom - box.top} />
        </clipPath>
      </defs>
      <text x={props.letter === 'c' ? 58 : 965} y={602} fontSize={36} fontWeight="bold" fontFamily={FONT}>{props.letter}</text>
      <g clipPath={`url(#${props.clip})`} fill="none" strokeWidth={1.7} strokeLinejoin="round">
        <line x1={box.left} x2={box.right} y1={y(RATIO_LIMIT)} y2={y(RATIO_LIMIT)} stroke="#000" strokeWidth={1.6} strokeDasharray="9,6" />
        <path d={line(tr) as string} stroke={MAGENTA} />
        <path d={line(bg) as string} stroke={GREY} />
        {markPoints(tr, props.marks).map((p, i) => (
          <circle key={i} cx={x(p[0])} cy={y(p[1])} r={5.5} stroke={MAGENTA} strokeWidth={2.4} />
        ))}
      </g>
      <rect x={box.left} y={box.top} width={box.right - box.left} height={box.bottom - box.top} fill="none" stroke={INK} strokeWidth={1.3} />
      {xMinor.map((v, i) => tk(v, false, 'x', 'xm' + i))}
      {xMajor.map((v, i) => tk(v, true, 'x', 'xM' + i))}
      {yMinor.map((v, i) => tk(v, false, 'y', 'ym' + i))}
      {yMajor.map((v, i) => tk(v, true, 'y', 'yM' + i))}
      {F_TICK_EXP.map((e) => (
        <Pow key={'fl' + e} x={x(Math.pow(10, e))} y={box.bottom + 42} exp={e} anchor="middle" />
      ))}
      {RATIO_TICK_EXP.map((e) => (
        <Pow key={'rl' + e} x={box.left - 10} y={y(Math.pow(10, e)) + 13} exp={e} anchor="end" />
      ))}
      <text x={cx} y={box.bottom + 71} textAnchor="middle" fontSize={34} fontFamily={FONT}>f (Hz)</text>
      <text transform={`translate(${props.labelX},${cy}) rotate(-90)`} textAnchor="middle" fontSize={34} fontFamily={FONT} style={TXT}>
        <tspan>(w/p)</tspan>
        <tspan dy={8} fontSize={24}>obs</tspan>
        <tspan dy={-8}>  (</tspan>
        <tspan fontStyle="italic">μ</tspan>
        <tspan>m·s</tspan>
        <tspan dy={-15} fontSize={24}>-1</tspan>
        <tspan dy={15}>/Pa)</tspan>
      </text>
    </g>
  );
}

export default function App() {
  const fineF = FREQ_FINE.concat(FREQ_HIGH);
  const coarseF = FREQ_COARSE.concat(FREQ_HIGH);
  return (
    <svg width={1773} height={1007} style={{ position: 'absolute', left: 0, top: 0, background: '#fff' }}>
      <rect width={1773} height={1007} fill="#fff" />
      <SpectrumPanel box={BOX_A} letter="a" title="TR1, 2013" legend="TR1" clip="clipA"
        freqs={fineF} wTR={tr1PwLog} wBG={bg1PwLog} pTR={tr1PpLog} pBG={bg1PpLog}
        wMarks={tr1PwMarkF} pMarks={tr1PpMarkF} leftLabelX={39} rightLabelX={848} />
      <SpectrumPanel box={BOX_B} letter="b" title="TR2, 2018" legend="TR2" clip="clipB"
        freqs={coarseF} wTR={tr2PwLog} wBG={bg2PwLog} pTR={tr2PpLog} pBG={bg2PpLog}
        wMarks={tr2MarkF} pMarks={tr2MarkF} leftLabelX={941} rightLabelX={1744} />
      <RatioPanel box={BOX_C} letter="c" clip="clipC" freqs={fineF}
        tr={tr1RatioLog} bg={bg1RatioLog} marks={tr1RatioMarkF} labelX={44} />
      <RatioPanel box={BOX_D} letter="d" clip="clipD" freqs={coarseF}
        tr={tr2RatioLog} bg={bg2RatioLog} marks={tr2RatioMarkF} labelX={953} />
    </svg>
  );
}
